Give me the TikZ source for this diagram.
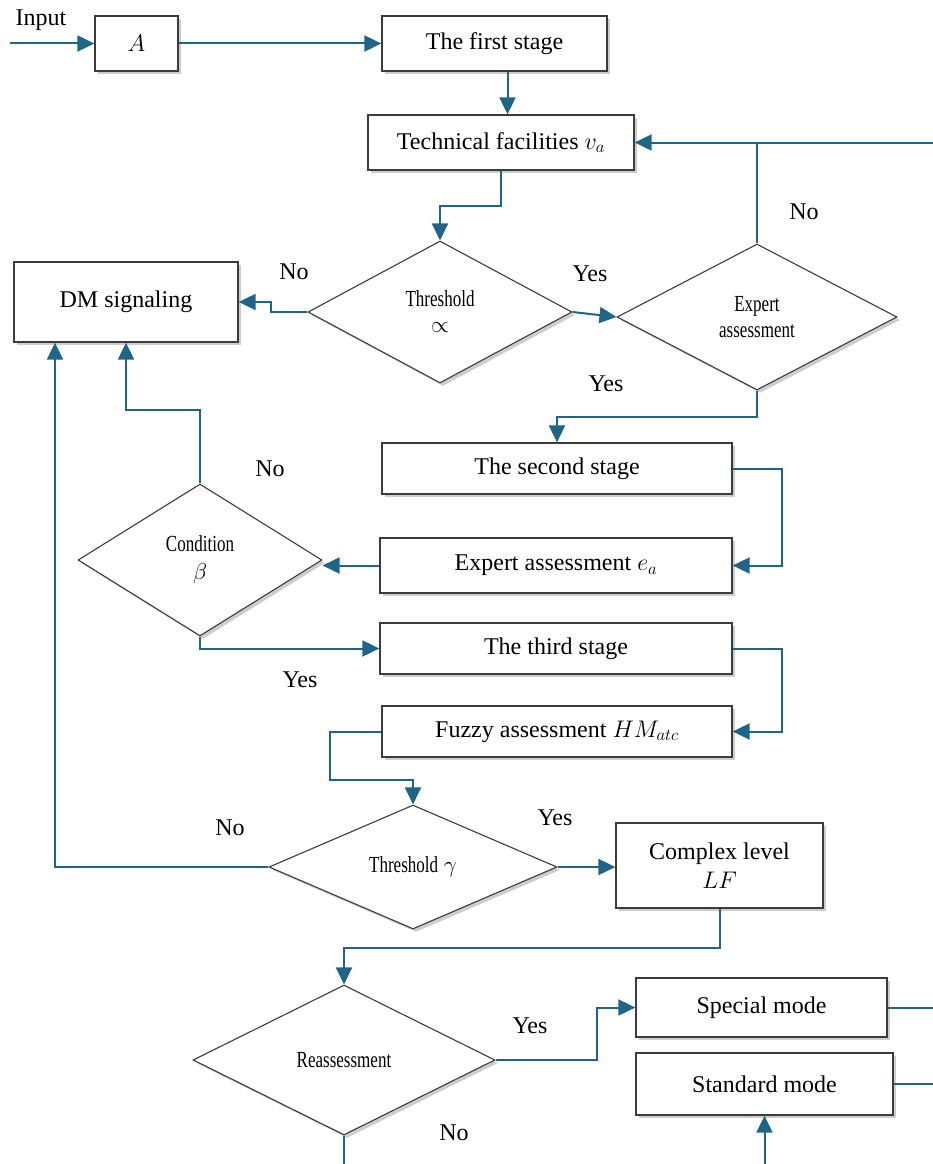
\RequirePackage{fix-cm}
\documentclass[tikz,border=0pt]{standalone}
\usepackage{fontspec}
\setmainfont{Liberation Serif}[Ligatures=TeX]
\newfontfamily\tnr{Liberation Serif}
\usetikzlibrary{arrows.meta,shapes.geometric,shadows,calc}
\definecolor{flow}{RGB}{31,101,135}
\definecolor{edgec}{RGB}{60,60,60}
\tikzset{
  shd/.style={drop shadow={shadow xshift=3pt,shadow yshift=-3pt,opacity=.28,fill=black!70}},
  box/.style={draw=edgec, line width=1.3pt, fill=white, rectangle, inner sep=0pt,
    align=center, font=\tnr\fontsize{24}{29}\selectfont, shd},
  dia/.style={draw=edgec, line width=1.1pt, fill=white, diamond, inner sep=0pt,
    align=center, font=\tnr\fontsize{23}{26}\selectfont, shd},
  conn/.style={draw=flow, line width=2pt},
  arr/.style={conn, -{Triangle[length=17pt,width=16pt]}},
  lbl/.style={font=\tnr\fontsize{24}{28}\selectfont, inner sep=0pt},
}
\newcommand{\cnd}[1]{\scalebox{0.74}[1]{#1}}
\begin{document}
\begin{tikzpicture}[x=1pt,y=-1pt]
\useasboundingbox (0,0) rectangle (933,1164);
% nodes
\node[box, minimum width=83pt, minimum height=55pt] (A) at (136.5,43.5) {$A$};
\node[box, minimum width=225pt, minimum height=55pt] (first) at (494.5,43.5) {The first stage};
\node[box, minimum width=266pt, minimum height=55pt] (tech) at (501,142.5) {Technical facilities $v_a$};
\node[box, minimum width=224pt, minimum height=80pt] (DM) at (126,302) {DM signaling};
\node[dia, minimum width=264pt, minimum height=142pt] (alpha) at (440,312) {\cnd{Threshold}\\[0pt]$\propto$};
\node[dia, minimum width=280pt, minimum height=146pt] (expert) at (757,317) {\cnd{Expert}\\\cnd{assessment}};
\node[box, minimum width=350pt, minimum height=51pt] (second) at (557,468.5) {The second stage};
\node[box, minimum width=352pt, minimum height=55pt] (ea) at (556,565.5) {Expert assessment $e_a$};
\node[dia, minimum width=244pt, minimum height=152pt] (cond) at (200,560) {\cnd{Condition}\\[2pt]$\beta$};
\node[box, minimum width=352pt, minimum height=51pt] (third) at (556,648.5) {The third stage};
\node[box, minimum width=350pt, minimum height=51pt] (fuzzy) at (557,731.5) {Fuzzy assessment $HM_{atc}$};
\node[dia, minimum width=288pt, minimum height=124pt] (gamma) at (413,867) {\cnd{Threshold} $\gamma$};
\node[box, minimum width=207pt, minimum height=85pt] (complex) at (719.5,865.5) {Complex level\\$LF$};
\node[dia, minimum width=302pt, minimum height=150pt] (reass) at (344,1060) {\cnd{Reassessment}};
\node[box, minimum width=251pt, minimum height=59pt] (special) at (761.5,1007.5) {Special mode};
\node[box, minimum width=257pt, minimum height=62pt] (standard) at (764.5,1084) {Standard mode};
% free ends
\coordinate (in) at (10,43.5);
\coordinate (re1) at (933,142.5);
\coordinate (re2) at (933,1007.5);
\coordinate (re3) at (933,1084);
\coordinate (bot1) at (764.5,1164);
\coordinate (bot2) at (344,1164);
% connectors
\draw[arr] (in) -- (A.west);
\draw[arr] (A.east) -- (first.west);
\draw[arr] ([xshift=13pt]first.south) -- ([xshift=13pt]first.south |- tech.north);
\draw[arr] (tech.south) -- ++(0,35) -| (alpha.north);
\draw[arr] (alpha.west) -- ++(-36,0) |- (DM.east);
\draw[arr] (alpha.east) -- (expert.west);
\draw[arr] (re1) -- (tech.east);
\draw[conn] (expert.north) -- (expert.north |- tech.east);
\draw[arr] (expert.south) -- ++(0,26) -| (second.north);
\draw[arr] (second.east) -- ++(49,0) |- (ea.east);
\draw[arr] (ea.west) -- (ea.west -| cond.east);
\draw[arr] (cond.north) -- ++(0,-73) -| (DM.south);
\draw[arr] (cond.south) |- (third.west);
\draw[arr] (third.east) -- ++(49,0) |- (fuzzy.east);
\draw[arr] (fuzzy.west) -- ++(-51,0) -- ++(0,48.5) -| (gamma.north);
\draw[arr] (gamma.west) -| ([xshift=-71pt]DM.south);
\draw[arr] (gamma.east) -- (gamma.east -| complex.west);
\draw[arr] (complex.south) -- ++(0,39) -| (reass.north);
\draw[arr] (reass.east) -- ++(101,0) |- (special.west);
\draw[conn] (special.east) -- (re2);
\draw[conn] (standard.east) -- (re3);
\draw[arr] (bot1) -- (standard.south);
\draw[conn] (reass.south) -- (bot2);
% labels
\node[lbl] (linput) at (41,20) {Input};
\node[lbl] (l1) at (294,272) {No};
\node[lbl] (l2) at (590,274) {Yes};
\node[lbl] (l3) at (804,212) {No};
\node[lbl] (l4) at (606,384) {Yes};
\node[lbl] (l5) at (270,469) {No};
\node[lbl] (l6) at (300,680) {Yes};
\node[lbl] (l7) at (230,828) {No};
\node[lbl] (l8) at (555,818) {Yes};
\node[lbl] (l9) at (530,1026) {Yes};
\node[lbl] (l10) at (454,1133) {No};
\end{tikzpicture}
\end{document}
